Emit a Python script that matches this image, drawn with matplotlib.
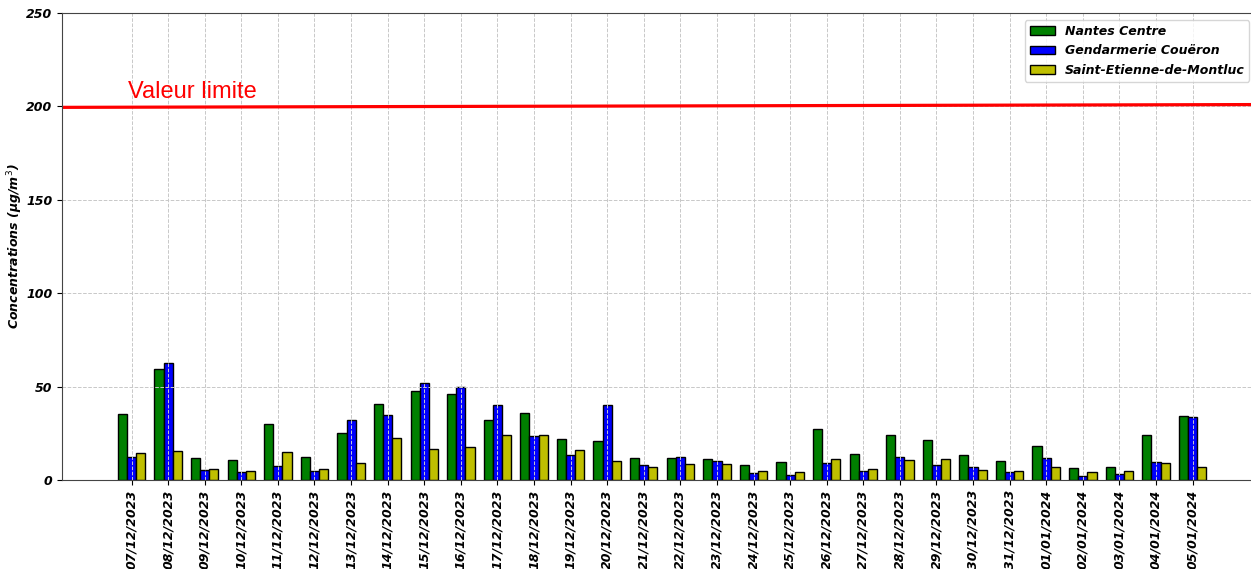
import matplotlib.pyplot as plt
import numpy as np

dates = ["07/12/2023", "08/12/2023", "09/12/2023", "10/12/2023", "11/12/2023",
         "12/12/2023", "13/12/2023", "14/12/2023", "15/12/2023", "16/12/2023",
         "17/12/2023", "18/12/2023", "19/12/2023", "20/12/2023", "21/12/2023",
         "22/12/2023", "23/12/2023", "24/12/2023", "25/12/2023", "26/12/2023",
         "27/12/2023", "28/12/2023", "29/12/2023", "30/12/2023", "31/12/2023",
         "01/01/2024", "02/01/2024", "03/01/2024", "04/01/2024", "05/01/2024"]

nantes = [35.3, 59.4, 11.9, 10.5, 29.8, 12.3, 25.2, 40.8, 47.4, 46.0,
          32.1, 35.9, 21.7, 20.7, 11.9, 11.9, 11.0, 7.8, 9.6, 27.1,
          13.7, 24.2, 21.2, 13.4, 10.2, 18.4, 6.4, 7.0, 24.2, 34.4]
coueron = [12.5, 62.6, 5.5, 4.1, 7.5, 5.0, 32.3, 35.0, 51.9, 49.8,
           39.9, 23.3, 13.4, 39.9, 8.2, 12.3, 10.2, 3.7, 2.8, 9.1,
           4.6, 12.3, 7.8, 7.0, 4.1, 11.9, 2.3, 3.2, 9.6, 33.5]
montluc = [14.6, 15.7, 6.0, 5.0, 15.1, 6.0, 9.1, 22.5, 16.6, 17.5,
           23.9, 23.9, 16.1, 10.2, 7.0, 8.7, 8.7, 5.0, 4.1, 11.0,
           5.7, 10.5, 11.2, 5.5, 5.0, 7.0, 4.1, 4.6, 9.1, 7.0]

series = [
    ("Nantes Centre", nantes, "green"),
    ("Gendarmerie Couëron", coueron, "blue"),
    ("Saint-Etienne-de-Montluc", montluc, "y"),
]

limit_label = "Valeur limite"
limit_ends = [199.5, 201.0]  # the reference line is very slightly tilted

XLIM = (-1.9, 30.7)

fig = plt.figure(figsize=(12.51, 5.69), dpi=100)
# right edge runs just past the figure, like the cropped original
ax = fig.add_axes([0.0496, 0.1564, 0.9534, 0.8207])

x = np.arange(len(dates))
width = 0.25
for i, (label, vals, color) in enumerate(series):
    ax.bar(x + (i - 1) * width, vals, width, color=color, edgecolor="black",
           linewidth=1.0, label=label, zorder=2)

ax.plot(XLIM, limit_ends, color="red", linewidth=2.3, zorder=3)
ax.text(-0.1, 204.5, limit_label, color="red", fontsize=17,
        family="Liberation Sans", ha="left", va="baseline")

ax.set_xlim(*XLIM)
ax.set_ylim(0, 250)
ax.set_xticks(x)
ax.set_xticklabels(dates, rotation=90, fontsize=9, fontweight="bold",
                   fontstyle="italic")
ax.set_yticks([0, 50, 100, 150, 200, 250])
ax.set_yticklabels(["0", "50", "100", "150", "200", "250"], fontsize=9,
                   fontweight="bold", fontstyle="italic")
ax.set_ylabel("Concentrations (µg/m$^3$)", fontsize=9, fontweight="bold",
              fontstyle="italic", labelpad=1)

ax.grid(True, color="#c8c8c8", linestyle="--", linewidth=0.7, zorder=4)
ax.set_axisbelow(False)
for s in ax.spines.values():
    s.set_color("#444444")
    s.set_zorder(6)

ax.legend(loc="upper left", bbox_to_anchor=(0.807, 0.985),
          prop={"weight": "bold", "style": "italic", "size": 9},
          handlelength=2.0, borderaxespad=0.0)

fig.savefig("out.png", dpi=100)
